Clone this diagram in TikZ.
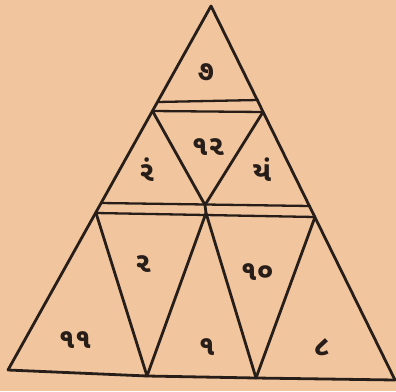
\documentclass[tikz,border=0pt]{standalone}
\usepackage{fontspec}
\newfontfamily\guj[Script=Gujarati]{Noto Sans Gujarati UI}
\definecolor{paper}{RGB}{241,197,158}
\definecolor{ink}{RGB}{40,30,25}
\begin{document}
\begin{tikzpicture}[x=1pt,y=-1pt,
  edge/.style={draw=ink,line width=2.8pt,line cap=round,line join=round},
  band/.style={draw=ink,line width=2.3pt,line cap=round},
  lbl/.style={text=ink,font=\guj\bfseries\fontsize{28}{28}\selectfont,inner sep=0pt}]
\fill[paper] (0,0) rectangle (396,391);
\useasboundingbox (0,0) rectangle (396,391);
% outer triangle
\coordinate (A) at (211,6);
\coordinate (BL) at (8,370);
\coordinate (BR) at (395,380);
% top band
\coordinate (T1L) at (157.5,102);
\coordinate (T1R) at (258,100);
\coordinate (T2L) at (152.5,111);
\coordinate (T2R) at (263,112);
% middle band
\coordinate (U1L) at (101,203);
\coordinate (U1R) at (310,206);
\coordinate (U2L) at (96,213);
\coordinate (U2R) at (315,217);
\coordinate (M1) at (205,205);
\coordinate (M2) at (206,213);
% base vertices
\coordinate (P1) at (147,376);
\coordinate (P2) at (256,378);
% outline
\draw[edge] (BL) -- (A) -- (BR);
\draw[edge] (BL) -- (P1) -- (P2) -- (BR);
% bands
\draw[band] (T1L) -- (T1R);
\draw[band] (T2L) -- (T2R);
\draw[band] (U1L) -- (U1R);
\draw[band] (U2L) -- (U2R);
% middle tier diagonals
\draw[edge] (T2L) -- (M1);
\draw[edge] (T2R) -- (M1);
\draw[edge] (M1) -- (M2);
% bottom tier diagonals
\draw[edge] (U2L) -- (P1);
\draw[edge] (M2) -- (P1);
\draw[edge] (M2) -- (P2);
\draw[edge] (U2R) -- (P2);
% labels
\node[lbl] (n7) at (206,72) {૭};
\node[lbl] (n12) at (208,147) {૧૨};
\node[lbl] (nra) at (147,170) {રં};
\node[lbl] (nya) at (262,170) {યં};
\node[lbl] (n2) at (143,264) {૨};
\node[lbl] (n10) at (257,272) {૧૦};
\node[lbl] (n11) at (75,340) {૧૧};
\node[lbl] (n1) at (207,347) {૧};
\node[lbl] (n8) at (322,347) {૮};
\end{tikzpicture}
\end{document}
